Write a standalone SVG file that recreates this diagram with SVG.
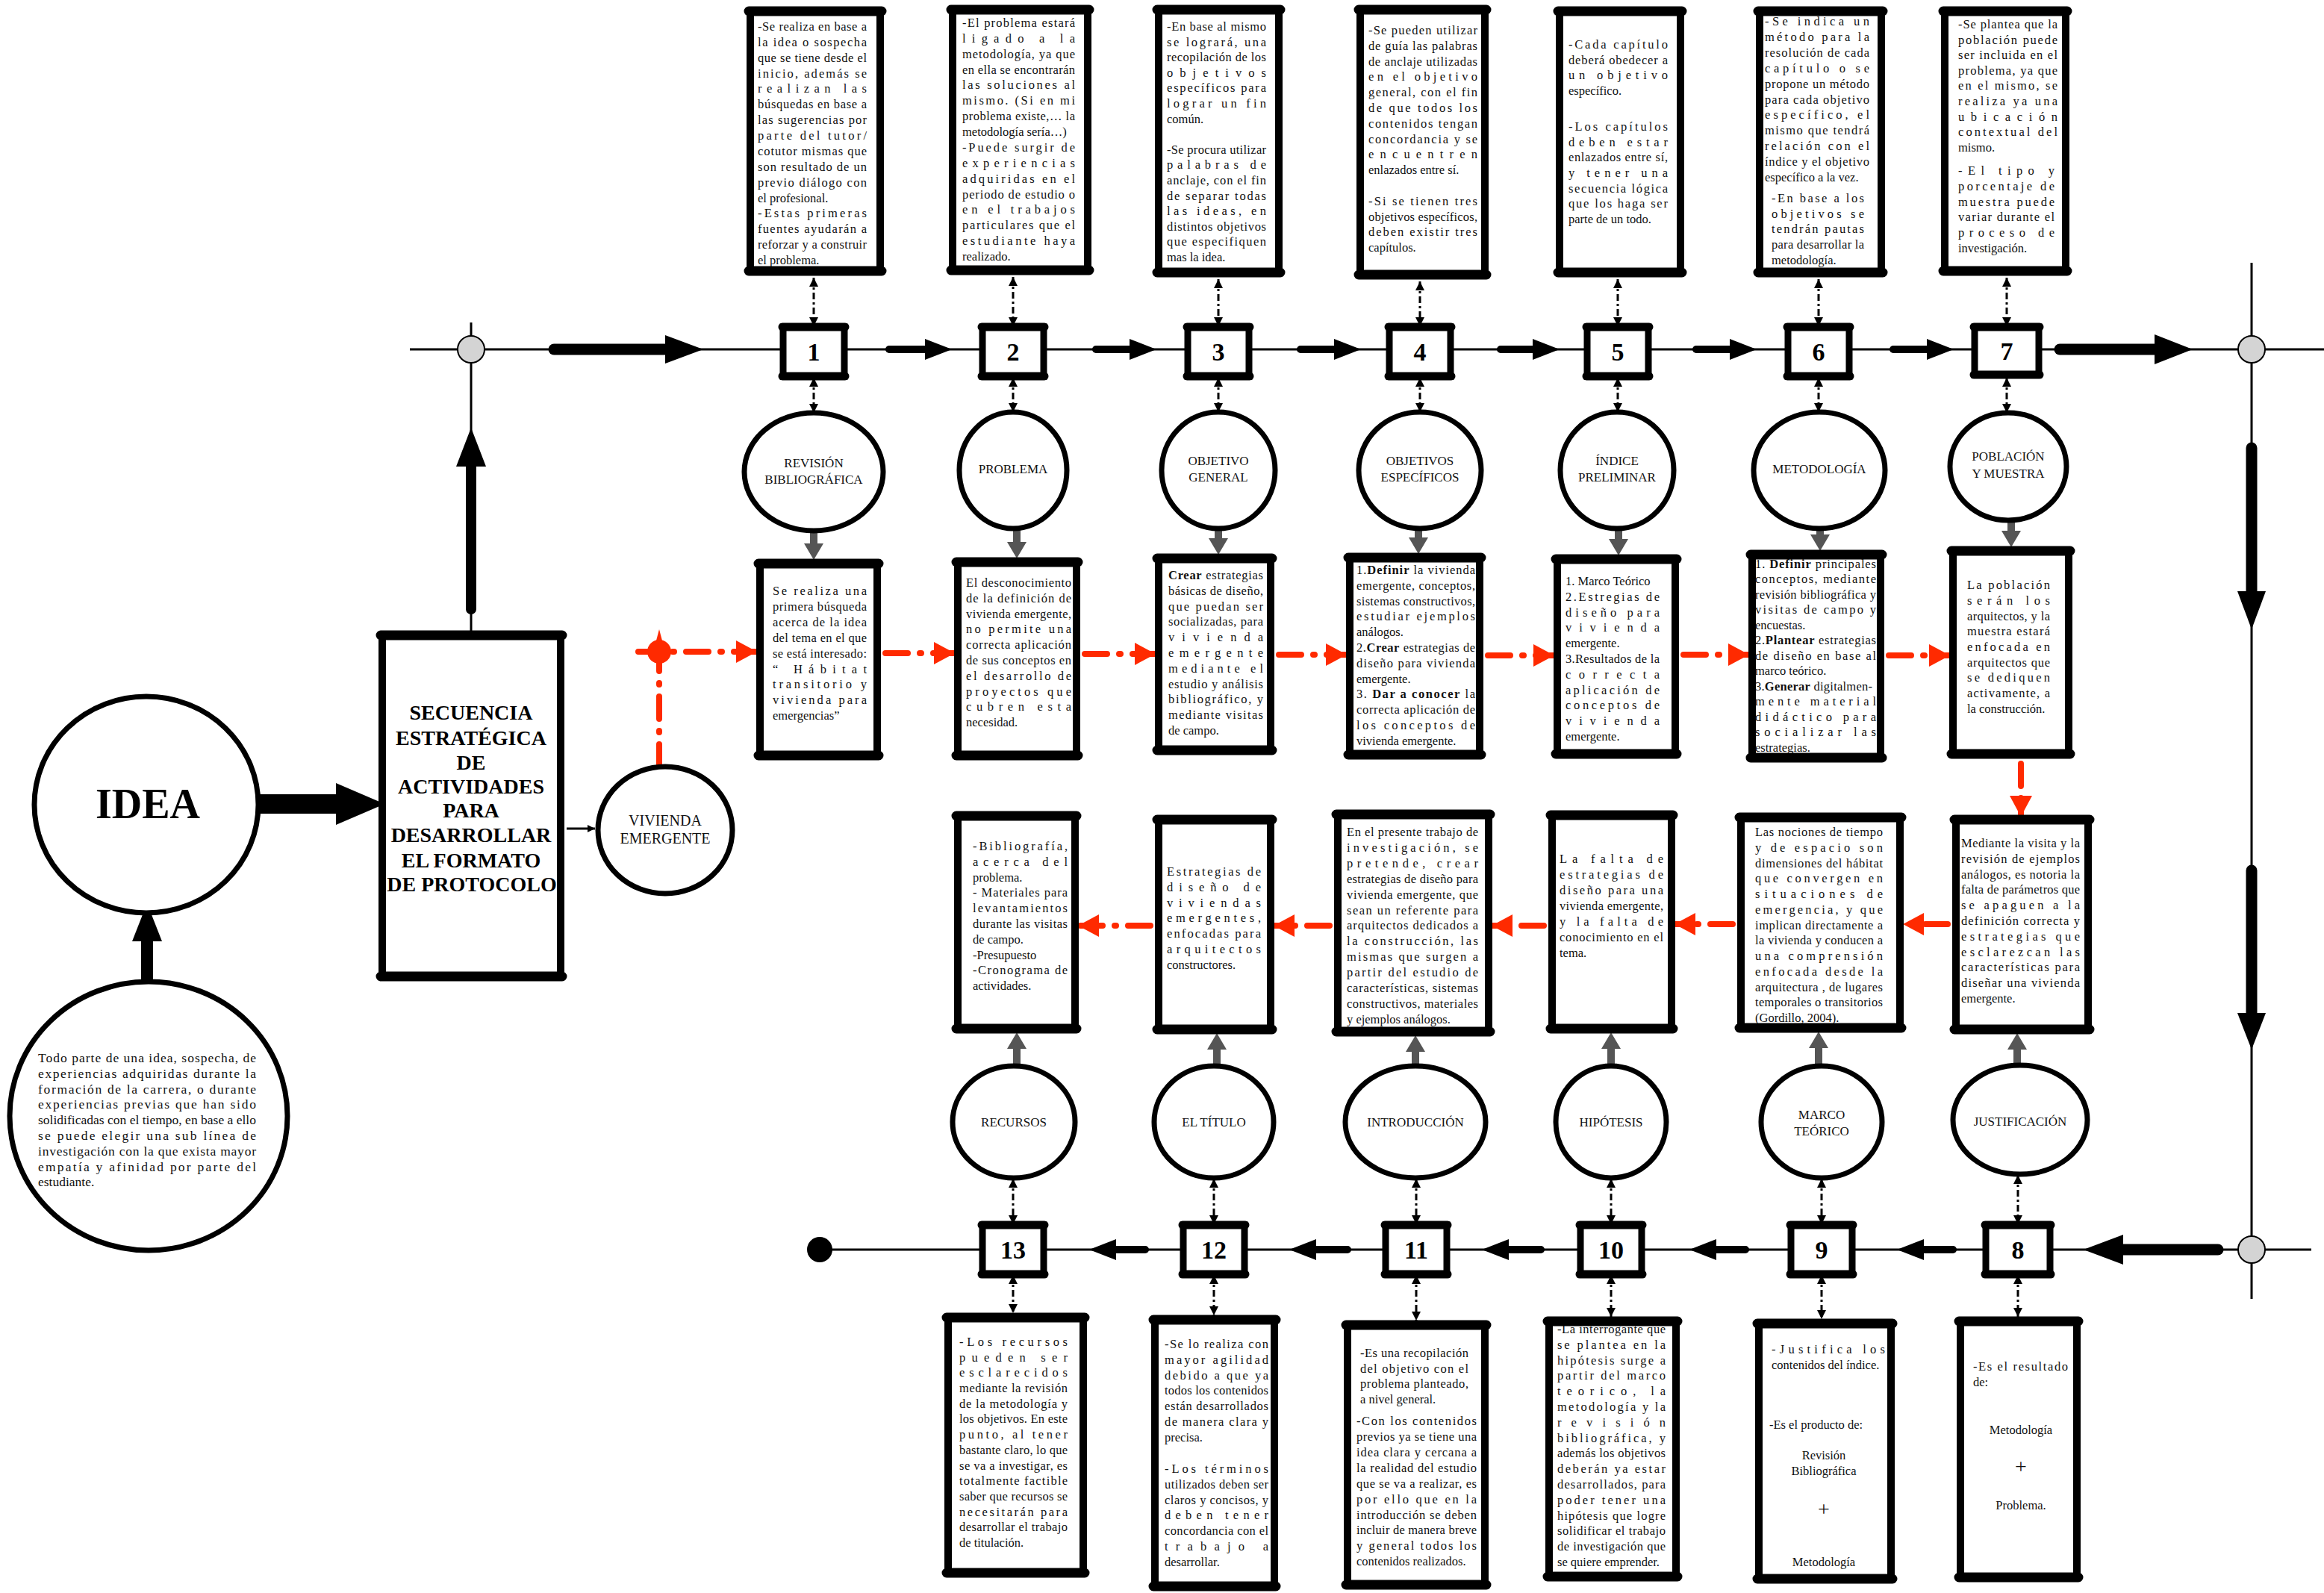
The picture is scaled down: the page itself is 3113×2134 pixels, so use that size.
<svg xmlns="http://www.w3.org/2000/svg" width="3113" height="2134" viewBox="0 0 3113 2134">
<defs>
<style>
.t{font-family:"Liberation Serif","Times New Roman",serif;font-size:16.5px;fill:#111}
.c{text-anchor:middle}
.lb{font-family:"Liberation Serif","Times New Roman",serif;font-size:17px;fill:#111;text-anchor:middle}
.bx{fill:#fff;stroke:#000;stroke-width:10}
.ed{fill:none;stroke:#000;stroke-width:13;stroke-linecap:round}
.el{fill:#fff;stroke:#000;stroke-width:7}
.nb{fill:#fff;stroke:#000;stroke-width:9}
.ne{fill:none;stroke:#000;stroke-width:11;stroke-linecap:round}
.num{font-family:"Liberation Serif","Times New Roman",serif;font-size:34px;font-weight:bold;text-anchor:middle;fill:#000}
.ln{stroke:#000;stroke-width:3;fill:none}
.dd{stroke:#000;stroke-width:3;fill:none;stroke-dasharray:9 4 3 4}
.rd{stroke:#ff2a00;stroke-width:8;fill:none;stroke-dasharray:30 16 2 16;stroke-linecap:round}
.ga{fill:#555}
.gc{fill:#d4d4d4;stroke:#000;stroke-width:2}
.bk{fill:#000}
.sh{stroke:#000;fill:none;stroke-linecap:round}
.big{font-family:"Liberation Serif","Times New Roman",serif;font-weight:bold;text-anchor:middle;fill:#000}
.it{font-family:"Liberation Serif","Times New Roman",serif;font-size:17.5px;fill:#111}
</style>
<marker id="da" viewBox="0 0 12 12" refX="12" refY="6" markerWidth="12" markerHeight="12" markerUnits="userSpaceOnUse" orient="auto-start-reverse"><path d="M0,0 L12,6 L0,12 z" fill="#000"/></marker>
<marker id="ra" viewBox="0 0 28 30" refX="27" refY="15" markerWidth="28" markerHeight="30" markerUnits="userSpaceOnUse" orient="auto"><path d="M0,0 L28,15 L0,30 z" fill="#ff2a00"/></marker>
<marker id="sa" viewBox="0 0 10 10" refX="10" refY="5" markerWidth="10" markerHeight="10" markerUnits="userSpaceOnUse" orient="auto"><path d="M0,0 L10,5 L0,10 z" fill="#000"/></marker>
</defs>
<rect width="3113" height="2134" fill="#fff"/>

<g id="connectors">
<path class="ln" d="M549,468 H3113"/>
<path class="ln" d="M631,432 V846"/>
<path class="ln" d="M3016,352 V1740"/>
<path class="ln" d="M1098,1674 H3096"/>
<path class="sh" stroke-width="15" d="M742,468 H895"/>
<polygon class="bk" points="891,449 942,468 891,487"/>
<path class="sh" stroke-width="15" d="M2759,468 H2890"/>
<polygon class="bk" points="2886,448 2937,468 2886,488"/>
<path class="sh" stroke-width="15" d="M3016,600 V796"/>
<polygon class="bk" points="2997,792 3016,843 3035,792"/>
<path class="sh" stroke-width="15" d="M3016,1166 V1361"/>
<polygon class="bk" points="2997,1357 3016,1406 3035,1357"/>
<path class="sh" stroke-width="15" d="M2971,1674 H2840"/>
<polygon class="bk" points="2844,1654 2791,1674 2844,1694"/>
<path class="sh" stroke-width="14" d="M631,816 V621"/>
<polygon class="bk" points="611,625 631,573 651,625"/>
<rect class="bk" x="346" y="1064" width="106" height="26"/>
<polygon class="bk" points="450,1049 515,1077 450,1105"/>
<path class="sh" stroke-width="16" d="M197,1322 V1257"/>
<polygon class="bk" points="177,1261 197,1210 217,1261"/>
<path class="ln" stroke-width="2.5" d="M759,1110 H797" marker-end="url(#sa)"/>
<path class="sh" stroke-width="10" d="M1191,468 H1242"/><polygon class="bk" points="1239,454 1275,468 1239,482"/>
<path class="sh" stroke-width="10" d="M1468,468 H1516"/><polygon class="bk" points="1513,454 1549,468 1513,482"/>
<path class="sh" stroke-width="10" d="M1742,468 H1790"/><polygon class="bk" points="1787,454 1823,468 1787,482"/>
<path class="sh" stroke-width="10" d="M2010,468 H2056"/><polygon class="bk" points="2053,454 2089,468 2053,482"/>
<path class="sh" stroke-width="10" d="M2272,468 H2320"/><polygon class="bk" points="2317,454 2353,468 2317,482"/>
<path class="sh" stroke-width="10" d="M2536,468 H2584"/><polygon class="bk" points="2581,454 2617,468 2581,482"/>
<path class="sh" stroke-width="10" d="M2616,1674 H2574"/><polygon class="bk" points="2577,1660 2541,1674 2577,1688"/>
<path class="sh" stroke-width="10" d="M2338,1674 H2296"/><polygon class="bk" points="2299,1660 2263,1674 2299,1688"/>
<path class="sh" stroke-width="10" d="M2064,1674 H2018"/><polygon class="bk" points="2021,1660 1985,1674 2021,1688"/>
<path class="sh" stroke-width="10" d="M1805,1674 H1760"/><polygon class="bk" points="1763,1660 1727,1674 1763,1688"/>
<path class="sh" stroke-width="10" d="M1534,1674 H1492"/><polygon class="bk" points="1495,1660 1459,1674 1495,1688"/>
<circle class="gc" cx="631" cy="468" r="18"/>
<circle class="gc" cx="3016" cy="468" r="18"/>
<circle class="gc" cx="3016" cy="1674" r="18"/>
<circle class="bk" cx="1098" cy="1674" r="17"/>
<path class="dd" d="M1090,372 V437" marker-start="url(#da)" marker-end="url(#da)"/>
<path class="dd" d="M1357,371 V437" marker-start="url(#da)" marker-end="url(#da)"/>
<path class="dd" d="M1632,374 V437" marker-start="url(#da)" marker-end="url(#da)"/>
<path class="dd" d="M1902,377 V437" marker-start="url(#da)" marker-end="url(#da)"/>
<path class="dd" d="M2167,374 V437" marker-start="url(#da)" marker-end="url(#da)"/>
<path class="dd" d="M2436,374 V437" marker-start="url(#da)" marker-end="url(#da)"/>
<path class="dd" d="M2688,372 V437" marker-start="url(#da)" marker-end="url(#da)"/>
<path class="dd" d="M1090,506 V553" marker-start="url(#da)" marker-end="url(#da)"/>
<path class="dd" d="M1357,506 V552" marker-start="url(#da)" marker-end="url(#da)"/>
<path class="dd" d="M1632,506 V552" marker-start="url(#da)" marker-end="url(#da)"/>
<path class="dd" d="M1902,506 V552" marker-start="url(#da)" marker-end="url(#da)"/>
<path class="dd" d="M2167,506 V552" marker-start="url(#da)" marker-end="url(#da)"/>
<path class="dd" d="M2436,506 V552" marker-start="url(#da)" marker-end="url(#da)"/>
<path class="dd" d="M2688,506 V553" marker-start="url(#da)" marker-end="url(#da)"/>
<path class="dd" d="M1357,1579 V1640" marker-start="url(#da)" marker-end="url(#da)"/>
<path class="dd" d="M1626,1579 V1640" marker-start="url(#da)" marker-end="url(#da)"/>
<path class="dd" d="M1897,1579 V1640" marker-start="url(#da)" marker-end="url(#da)"/>
<path class="dd" d="M2158,1579 V1640" marker-start="url(#da)" marker-end="url(#da)"/>
<path class="dd" d="M2440,1579 V1640" marker-start="url(#da)" marker-end="url(#da)"/>
<path class="dd" d="M2703,1574 V1640" marker-start="url(#da)" marker-end="url(#da)"/>
<path class="dd" d="M1357,1708 V1759" marker-start="url(#da)" marker-end="url(#da)"/>
<path class="dd" d="M1626,1708 V1762" marker-start="url(#da)" marker-end="url(#da)"/>
<path class="dd" d="M1897,1708 V1769" marker-start="url(#da)" marker-end="url(#da)"/>
<path class="dd" d="M2158,1708 V1764" marker-start="url(#da)" marker-end="url(#da)"/>
<path class="dd" d="M2440,1708 V1767" marker-start="url(#da)" marker-end="url(#da)"/>
<path class="dd" d="M2703,1708 V1764" marker-start="url(#da)" marker-end="url(#da)"/>
<polygon class="ga" points="1085,708 1095,708 1095,728 1103,728 1090,750 1077,728 1085,728"/>
<polygon class="ga" points="1357,706 1367,706 1367,726 1375,726 1362,748 1349,726 1357,726"/>
<polygon class="ga" points="1627,706 1637,706 1637,721 1645,721 1632,743 1619,721 1627,721"/>
<polygon class="ga" points="1895,706 1905,706 1905,720 1913,720 1900,742 1887,720 1895,720"/>
<polygon class="ga" points="2163,706 2173,706 2173,722 2181,722 2168,744 2155,722 2163,722"/>
<polygon class="ga" points="2433,706 2443,706 2443,716 2451,716 2438,738 2425,716 2433,716"/>
<polygon class="ga" points="2689,695 2699,695 2699,711 2707,711 2694,733 2681,711 2689,711"/>
<polygon class="ga" points="1357,1428 1367,1428 1367,1405 1375,1405 1362,1383 1349,1405 1357,1405"/>
<polygon class="ga" points="1625,1428 1635,1428 1635,1406 1643,1406 1630,1384 1617,1406 1625,1406"/>
<polygon class="ga" points="1891,1428 1901,1428 1901,1409 1909,1409 1896,1387 1883,1409 1891,1409"/>
<polygon class="ga" points="2153,1428 2163,1428 2163,1405 2171,1405 2158,1383 2145,1405 2153,1405"/>
<polygon class="ga" points="2431,1428 2441,1428 2441,1404 2449,1404 2436,1382 2423,1404 2431,1404"/>
<polygon class="ga" points="2697,1427 2707,1427 2707,1406 2715,1406 2702,1384 2689,1406 2697,1406"/>
<path class="rd" d="M883,1027 V880"/>
<path class="rd" d="M855,873 H1013" marker-end="url(#ra)"/>
<path class="rd" d="M1186,875 H1278" marker-end="url(#ra)"/>
<path class="rd" d="M1453,876 H1547" marker-end="url(#ra)"/>
<path class="rd" d="M1713,877 H1803" marker-end="url(#ra)"/>
<path class="rd" d="M1993,878 H2081" marker-end="url(#ra)"/>
<path class="rd" d="M2255,877 H2342" marker-end="url(#ra)"/>
<path class="rd" d="M2530,878 H2611" marker-end="url(#ra)"/>
<path class="rd" d="M2707,1023 V1093" marker-end="url(#ra)"/>
<path class="rd" d="M2609,1238 H2550" marker-end="url(#ra)"/>
<path class="rd" d="M2321,1238 H2244" marker-end="url(#ra)"/>
<path class="rd" d="M2068,1240 H1999" marker-end="url(#ra)"/>
<path class="rd" d="M1781,1240 H1707" marker-end="url(#ra)"/>
<path class="rd" d="M1541,1240 H1445" marker-end="url(#ra)"/>
<circle cx="883" cy="873" r="16" fill="#ff2a00"/>
<path d="M878,862 L883,843 L888,862 z" fill="#ff2a00"/>
</g>

<g id="idea-origin">
<ellipse class="el" cx="199" cy="1495" rx="186" ry="180" stroke-width="6"/>
<text class="it" x="51" y="1423" textLength="292" lengthAdjust="spacing">Todo parte de una idea, sospecha, de</text>
<text class="it" x="51" y="1444" textLength="292" lengthAdjust="spacing">experiencias adquiridas durante la</text>
<text class="it" x="51" y="1465" textLength="292" lengthAdjust="spacing">formación de la carrera, o durante</text>
<text class="it" x="51" y="1485" textLength="292" lengthAdjust="spacing">experiencias previas que han sido</text>
<text class="it" x="51" y="1506" textLength="292" lengthAdjust="spacing">solidificadas con el tiempo, en base a ello</text>
<text class="it" x="51" y="1527" textLength="292" lengthAdjust="spacing">se puede elegir una sub línea de</text>
<text class="it" x="51" y="1548" textLength="292" lengthAdjust="spacing">investigación con la que exista mayor</text>
<text class="it" x="51" y="1569" textLength="292" lengthAdjust="spacing">empatía y afinidad por parte del</text>
<text class="it" x="51" y="1589">estudiante.</text>
</g>

<g id="idea">
<ellipse class="el" cx="196" cy="1078" rx="150" ry="145" stroke-width="6"/>
<text class="big" x="198" y="1096" font-size="56">IDEA</text>
</g>

<g id="secuencia">
<rect class="bx" x="512" y="851" width="239" height="457"/>
<path class="ed" d="M510,851 H753 M510,1308 H753"/>
<text class="big" font-size="28" x="631" y="964">SECUENCIA</text>
<text class="big" font-size="28" x="631" y="998">ESTRATÉGICA</text>
<text class="big" font-size="28" x="631" y="1031">DE</text>
<text class="big" font-size="28" x="631" y="1063">ACTIVIDADES</text>
<text class="big" font-size="28" x="631" y="1095">PARA</text>
<text class="big" font-size="28" x="631" y="1128">DESARROLLAR</text>
<text class="big" font-size="28" x="631" y="1162">EL FORMATO</text>
<text class="big" font-size="28" x="632" y="1194">DE PROTOCOLO</text>
</g>

<g id="vivienda-emergente">
<ellipse class="el" cx="891" cy="1112" rx="90" ry="85" stroke-width="6"/>
<text class="lb" style="font-size:20px" x="891" y="1106">VIVIENDA</text>
<text class="lb" style="font-size:20px" x="891" y="1130">EMERGENTE</text>
</g>

<g id="n1"><rect class="nb" x="1049" y="438" width="82" height="66"/><path class="ne" d="M1048,438 H1132 M1048,504 H1132"/><text class="num" x="1090" y="483">1</text></g>
<g id="n2"><rect class="nb" x="1316" y="438" width="82" height="66"/><path class="ne" d="M1315,438 H1399 M1315,504 H1399"/><text class="num" x="1357" y="483">2</text></g>
<g id="n3"><rect class="nb" x="1591" y="438" width="82" height="66"/><path class="ne" d="M1590,438 H1674 M1590,504 H1674"/><text class="num" x="1632" y="483">3</text></g>
<g id="n4"><rect class="nb" x="1861" y="438" width="82" height="66"/><path class="ne" d="M1860,438 H1944 M1860,504 H1944"/><text class="num" x="1902" y="483">4</text></g>
<g id="n5"><rect class="nb" x="2126" y="438" width="82" height="66"/><path class="ne" d="M2125,438 H2209 M2125,504 H2209"/><text class="num" x="2167" y="483">5</text></g>
<g id="n6"><rect class="nb" x="2395" y="438" width="82" height="66"/><path class="ne" d="M2394,438 H2478 M2394,504 H2478"/><text class="num" x="2436" y="483">6</text></g>
<g id="n7"><rect class="nb" x="2645" y="438" width="86" height="64"/><path class="ne" d="M2644,438 H2732 M2644,502 H2732"/><text class="num" x="2688" y="482">7</text></g>
<g id="n8"><rect class="nb" x="2660" y="1641" width="86" height="66"/><path class="ne" d="M2659,1641 H2747 M2659,1707 H2747"/><text class="num" x="2703" y="1686">8</text></g>
<g id="n9"><rect class="nb" x="2399" y="1641" width="82" height="66"/><path class="ne" d="M2398,1641 H2482 M2398,1707 H2482"/><text class="num" x="2440" y="1686">9</text></g>
<g id="n10"><rect class="nb" x="2117" y="1641" width="82" height="66"/><path class="ne" d="M2116,1641 H2200 M2116,1707 H2200"/><text class="num" x="2158" y="1686">10</text></g>
<g id="n11"><rect class="nb" x="1856" y="1641" width="82" height="66"/><path class="ne" d="M1855,1641 H1939 M1855,1707 H1939"/><text class="num" x="1897" y="1686">11</text></g>
<g id="n12"><rect class="nb" x="1585" y="1641" width="82" height="66"/><path class="ne" d="M1584,1641 H1668 M1584,1707 H1668"/><text class="num" x="1626" y="1686">12</text></g>
<g id="n13"><rect class="nb" x="1316" y="1641" width="82" height="66"/><path class="ne" d="M1315,1641 H1399 M1315,1707 H1399"/><text class="num" x="1357" y="1686">13</text></g>

<g id="e-revision"><ellipse class="el" cx="1090" cy="632" rx="93" ry="79"/><text class="lb" x="1090" y="626">REVISIÓN</text><text class="lb" x="1090" y="648">BIBLIOGRÁFICA</text></g>
<g id="e-problema"><ellipse class="el" cx="1357" cy="630" rx="72" ry="78"/><text class="lb" x="1357" y="634">PROBLEMA</text></g>
<g id="e-objetivo-general"><ellipse class="el" cx="1632" cy="630" rx="76" ry="78"/><text class="lb" x="1632" y="623">OBJETIVO</text><text class="lb" x="1632" y="645">GENERAL</text></g>
<g id="e-objetivos-especificos"><ellipse class="el" cx="1902" cy="630" rx="82" ry="78"/><text class="lb" x="1902" y="623">OBJETIVOS</text><text class="lb" x="1902" y="645">ESPECÍFICOS</text></g>
<g id="e-indice"><ellipse class="el" cx="2166" cy="630" rx="76" ry="78"/><text class="lb" x="2166" y="623">ÍNDICE</text><text class="lb" x="2166" y="645">PRELIMINAR</text></g>
<g id="e-metodologia"><ellipse class="el" cx="2437" cy="630" rx="88" ry="78"/><text class="lb" x="2437" y="634">METODOLOGÍA</text></g>
<g id="e-poblacion"><ellipse class="el" cx="2690" cy="625" rx="78" ry="72"/><text class="lb" x="2690" y="617">POBLACIÓN</text><text class="lb" x="2690" y="640">Y MUESTRA</text></g>

<g id="e-recursos"><ellipse class="el" cx="1358" cy="1503" rx="82" ry="75"/><text class="lb" x="1358" y="1509">RECURSOS</text></g>
<g id="e-titulo"><ellipse class="el" cx="1626" cy="1503" rx="80" ry="75"/><text class="lb" x="1626" y="1509">EL TÍTULO</text></g>
<g id="e-introduccion"><ellipse class="el" cx="1896" cy="1503" rx="94" ry="75"/><text class="lb" x="1896" y="1509">INTRODUCCIÓN</text></g>
<g id="e-hipotesis"><ellipse class="el" cx="2158" cy="1503" rx="74" ry="75"/><text class="lb" x="2158" y="1509">HIPÓTESIS</text></g>
<g id="e-marco"><ellipse class="el" cx="2440" cy="1503" rx="81" ry="75"/><text class="lb" x="2440" y="1499">MARCO</text><text class="lb" x="2440" y="1521">TEÓRICO</text></g>
<g id="e-justificacion"><ellipse class="el" cx="2706" cy="1500" rx="90" ry="73"/><text class="lb" x="2706" y="1508">JUSTIFICACIÓN</text></g>

<g id="t1"><rect class="bx" x="1005" y="15" width="174" height="348"/>
<text class="t" x="1015" y="41" textLength="146" lengthAdjust="spacing">-Se realiza en base a</text>
<text class="t" x="1015" y="62" textLength="146" lengthAdjust="spacing">la idea o sospecha</text>
<text class="t" x="1015" y="83" textLength="146" lengthAdjust="spacing">que se tiene desde el</text>
<text class="t" x="1015" y="104" textLength="146" lengthAdjust="spacing">inicio, además se</text>
<text class="t" x="1015" y="124" textLength="146" lengthAdjust="spacing">realizan las</text>
<text class="t" x="1015" y="145" textLength="146" lengthAdjust="spacing">búsquedas en base a</text>
<text class="t" x="1015" y="166" textLength="146" lengthAdjust="spacing">las sugerencias por</text>
<text class="t" x="1015" y="187" textLength="146" lengthAdjust="spacing">parte del tutor/</text>
<text class="t" x="1015" y="208" textLength="146" lengthAdjust="spacing">cotutor mismas que</text>
<text class="t" x="1015" y="229" textLength="146" lengthAdjust="spacing">son resultado de un</text>
<text class="t" x="1015" y="250" textLength="146" lengthAdjust="spacing">previo diálogo  con</text>
<text class="t" x="1015" y="271">el profesional.</text>
<text class="t" x="1015" y="291" textLength="146" lengthAdjust="spacing">-Estas primeras</text>
<text class="t" x="1015" y="312" textLength="146" lengthAdjust="spacing">fuentes ayudarán a</text>
<text class="t" x="1015" y="333" textLength="146" lengthAdjust="spacing">reforzar y a construir</text>
<text class="t" x="1015" y="354">el problema.</text>
<path class="ed" d="M1003,15 H1181 M1003,363 H1181"/></g>

<g id="t2"><rect class="bx" x="1276" y="13" width="181" height="349"/>
<text class="t" x="1289" y="36" textLength="151" lengthAdjust="spacing">-El problema estará</text>
<text class="t" x="1289" y="57" textLength="151" lengthAdjust="spacing">ligado a la</text>
<text class="t" x="1289" y="78" textLength="151" lengthAdjust="spacing">metodología, ya que</text>
<text class="t" x="1289" y="99" textLength="151" lengthAdjust="spacing">en ella se encontrarán</text>
<text class="t" x="1289" y="119" textLength="151" lengthAdjust="spacing">las soluciones al</text>
<text class="t" x="1289" y="140" textLength="151" lengthAdjust="spacing">mismo. (Si en mi</text>
<text class="t" x="1289" y="161" textLength="151" lengthAdjust="spacing">problema existe,… la</text>
<text class="t" x="1289" y="182">metodología sería…)</text>
<text class="t" x="1289" y="203" textLength="151" lengthAdjust="spacing">-Puede surgir de</text>
<text class="t" x="1289" y="224" textLength="151" lengthAdjust="spacing">experiencias</text>
<text class="t" x="1289" y="245" textLength="151" lengthAdjust="spacing">adquiridas en el</text>
<text class="t" x="1289" y="266" textLength="151" lengthAdjust="spacing">periodo de estudio o</text>
<text class="t" x="1289" y="286" textLength="151" lengthAdjust="spacing">en el trabajos</text>
<text class="t" x="1289" y="307" textLength="151" lengthAdjust="spacing">particulares que el</text>
<text class="t" x="1289" y="328" textLength="151" lengthAdjust="spacing">estudiante haya</text>
<text class="t" x="1289" y="349">realizado.</text>
<path class="ed" d="M1274,13 H1459 M1274,362 H1459"/></g>

<g id="t3"><rect class="bx" x="1552" y="13" width="161" height="352"/>
<text class="t" x="1563" y="41" textLength="133" lengthAdjust="spacing">-En base al mismo</text>
<text class="t" x="1563" y="62" textLength="133" lengthAdjust="spacing">se logrará, una</text>
<text class="t" x="1563" y="82" textLength="133" lengthAdjust="spacing">recopilación de los</text>
<text class="t" x="1563" y="103" textLength="133" lengthAdjust="spacing">objetivos</text>
<text class="t" x="1563" y="123" textLength="133" lengthAdjust="spacing">específicos para</text>
<text class="t" x="1563" y="144" textLength="133" lengthAdjust="spacing">lograr un fin</text>
<text class="t" x="1563" y="165">común.</text>
<text class="t" x="1563" y="206" textLength="133" lengthAdjust="spacing">-Se procura utilizar</text>
<text class="t" x="1563" y="226" textLength="133" lengthAdjust="spacing">palabras de</text>
<text class="t" x="1563" y="247" textLength="133" lengthAdjust="spacing">anclaje, con el fin</text>
<text class="t" x="1563" y="268" textLength="133" lengthAdjust="spacing">de separar todas</text>
<text class="t" x="1563" y="288" textLength="133" lengthAdjust="spacing">las ideas, en</text>
<text class="t" x="1563" y="309" textLength="133" lengthAdjust="spacing">distintos objetivos</text>
<text class="t" x="1563" y="329" textLength="133" lengthAdjust="spacing">que especifiquen</text>
<text class="t" x="1563" y="350">mas la idea.</text>
<path class="ed" d="M1550,13 H1715 M1550,365 H1715"/></g>

<g id="t4"><rect class="bx" x="1822" y="13" width="167" height="355"/>
<text class="t" x="1833" y="46" textLength="146" lengthAdjust="spacing">-Se pueden utilizar</text>
<text class="t" x="1833" y="67" textLength="146" lengthAdjust="spacing">de guía las palabras</text>
<text class="t" x="1833" y="88" textLength="146" lengthAdjust="spacing">de anclaje utilizadas</text>
<text class="t" x="1833" y="108" textLength="146" lengthAdjust="spacing">en el objetivo</text>
<text class="t" x="1833" y="129" textLength="146" lengthAdjust="spacing">general, con el fin</text>
<text class="t" x="1833" y="150" textLength="146" lengthAdjust="spacing">de que todos los</text>
<text class="t" x="1833" y="171" textLength="146" lengthAdjust="spacing">contenidos tengan</text>
<text class="t" x="1833" y="192" textLength="146" lengthAdjust="spacing">concordancia y se</text>
<text class="t" x="1833" y="212" textLength="146" lengthAdjust="spacing">encuentren</text>
<text class="t" x="1833" y="233">enlazados entre sí.</text>
<text class="t" x="1833" y="275" textLength="146" lengthAdjust="spacing">-Si se tienen tres</text>
<text class="t" x="1833" y="296" textLength="146" lengthAdjust="spacing">objetivos específicos,</text>
<text class="t" x="1833" y="316" textLength="146" lengthAdjust="spacing">deben existir tres</text>
<text class="t" x="1833" y="337">capítulos.</text>
<path class="ed" d="M1820,13 H1991 M1820,368 H1991"/></g>

<g id="t5"><rect class="bx" x="2089" y="15" width="162" height="350"/>
<text class="t" x="2101" y="65" textLength="133" lengthAdjust="spacing">-Cada capítulo</text>
<text class="t" x="2101" y="86" textLength="133" lengthAdjust="spacing">deberá obedecer a</text>
<text class="t" x="2101" y="106" textLength="133" lengthAdjust="spacing">un objetivo</text>
<text class="t" x="2101" y="127">específico.</text>
<text class="t" x="2101" y="175" textLength="133" lengthAdjust="spacing">-Los capítulos</text>
<text class="t" x="2101" y="196" textLength="133" lengthAdjust="spacing">deben estar</text>
<text class="t" x="2101" y="216" textLength="133" lengthAdjust="spacing">enlazados entre sí,</text>
<text class="t" x="2101" y="237" textLength="133" lengthAdjust="spacing">y tener una</text>
<text class="t" x="2101" y="258" textLength="133" lengthAdjust="spacing">secuencia lógica</text>
<text class="t" x="2101" y="278" textLength="133" lengthAdjust="spacing">que los haga ser</text>
<text class="t" x="2101" y="299">parte de un todo.</text>
<path class="ed" d="M2087,15 H2253 M2087,365 H2253"/></g>

<g id="t6"><rect class="bx" x="2357" y="15" width="163" height="350"/>
<text class="t" x="2364" y="34" textLength="140" lengthAdjust="spacing">-Se indica un</text>
<text class="t" x="2364" y="55" textLength="140" lengthAdjust="spacing">método para la</text>
<text class="t" x="2364" y="76" textLength="140" lengthAdjust="spacing">resolución de cada</text>
<text class="t" x="2364" y="97" textLength="140" lengthAdjust="spacing">capítulo o se</text>
<text class="t" x="2364" y="118" textLength="140" lengthAdjust="spacing">propone un método</text>
<text class="t" x="2364" y="139" textLength="140" lengthAdjust="spacing">para cada objetivo</text>
<text class="t" x="2364" y="159" textLength="140" lengthAdjust="spacing">específico, el</text>
<text class="t" x="2364" y="180" textLength="140" lengthAdjust="spacing">mismo que tendrá</text>
<text class="t" x="2364" y="201" textLength="140" lengthAdjust="spacing">relación con el</text>
<text class="t" x="2364" y="222" textLength="140" lengthAdjust="spacing">índice y el objetivo</text>
<text class="t" x="2364" y="243">específico a la vez.</text>
<text class="t" x="2373" y="271" textLength="124" lengthAdjust="spacing">-En base a los</text>
<text class="t" x="2373" y="292" textLength="124" lengthAdjust="spacing">objetivos se</text>
<text class="t" x="2373" y="312" textLength="124" lengthAdjust="spacing">tendrán pautas</text>
<text class="t" x="2373" y="333" textLength="124" lengthAdjust="spacing">para desarrollar la</text>
<text class="t" x="2373" y="354">metodología.</text>
<path class="ed" d="M2355,15 H2522 M2355,365 H2522"/></g>

<g id="t7"><rect class="bx" x="2605" y="15" width="162" height="348"/>
<text class="t" x="2623" y="38" textLength="133" lengthAdjust="spacing">-Se plantea que la</text>
<text class="t" x="2623" y="59" textLength="133" lengthAdjust="spacing">población puede</text>
<text class="t" x="2623" y="79" textLength="133" lengthAdjust="spacing">ser incluida en el</text>
<text class="t" x="2623" y="100" textLength="133" lengthAdjust="spacing">problema, ya que</text>
<text class="t" x="2623" y="120" textLength="133" lengthAdjust="spacing">en el mismo, se</text>
<text class="t" x="2623" y="141" textLength="133" lengthAdjust="spacing">realiza ya una</text>
<text class="t" x="2623" y="162" textLength="133" lengthAdjust="spacing">ubicación</text>
<text class="t" x="2623" y="182" textLength="133" lengthAdjust="spacing">contextual del</text>
<text class="t" x="2623" y="203">mismo.</text>
<text class="t" x="2623" y="234" textLength="129" lengthAdjust="spacing">-El tipo y</text>
<text class="t" x="2623" y="255" textLength="129" lengthAdjust="spacing">porcentaje de</text>
<text class="t" x="2623" y="276" textLength="129" lengthAdjust="spacing">muestra puede</text>
<text class="t" x="2623" y="296" textLength="129" lengthAdjust="spacing">variar durante el</text>
<text class="t" x="2623" y="317" textLength="129" lengthAdjust="spacing">proceso de</text>
<text class="t" x="2623" y="338">investigación.</text>
<path class="ed" d="M2603,15 H2769 M2603,363 H2769"/></g>

<g id="m1"><rect class="bx" x="1018" y="755" width="157" height="257"/>
<text class="t" x="1035" y="797" textLength="126" lengthAdjust="spacing">Se realiza una</text>
<text class="t" x="1035" y="818" textLength="126" lengthAdjust="spacing">primera búsqueda</text>
<text class="t" x="1035" y="839" textLength="126" lengthAdjust="spacing">acerca de la idea</text>
<text class="t" x="1035" y="860" textLength="126" lengthAdjust="spacing">del tema en el que</text>
<text class="t" x="1035" y="881" textLength="126" lengthAdjust="spacing">se está interesado:</text>
<text class="t" x="1035" y="902" textLength="126" lengthAdjust="spacing">“ Hábitat</text>
<text class="t" x="1035" y="922" textLength="126" lengthAdjust="spacing">transitorio y</text>
<text class="t" x="1035" y="943" textLength="126" lengthAdjust="spacing">vivienda para</text>
<text class="t" x="1035" y="964">emergencias”</text>
<path class="ed" d="M1016,755 H1177 M1016,1012 H1177"/></g>

<g id="m2"><rect class="bx" x="1283" y="753" width="159" height="259"/>
<text class="t" x="1294" y="786" textLength="141" lengthAdjust="spacing">El desconocimiento</text>
<text class="t" x="1294" y="807" textLength="141" lengthAdjust="spacing">de la definición de</text>
<text class="t" x="1294" y="828" textLength="141" lengthAdjust="spacing">vivienda emergente,</text>
<text class="t" x="1294" y="848" textLength="141" lengthAdjust="spacing">no permite una</text>
<text class="t" x="1294" y="869" textLength="141" lengthAdjust="spacing">correcta aplicación</text>
<text class="t" x="1294" y="890" textLength="141" lengthAdjust="spacing">de sus conceptos en</text>
<text class="t" x="1294" y="911" textLength="141" lengthAdjust="spacing">el desarrollo de</text>
<text class="t" x="1294" y="932" textLength="141" lengthAdjust="spacing">proyectos que</text>
<text class="t" x="1294" y="952" textLength="141" lengthAdjust="spacing">cubren esta</text>
<text class="t" x="1294" y="973">necesidad.</text>
<path class="ed" d="M1281,753 H1444 M1281,1012 H1444"/></g>

<g id="m3"><rect class="bx" x="1552" y="748" width="150" height="257"/>
<text class="t" x="1565" y="776" textLength="127" lengthAdjust="spacing"><tspan font-weight="bold">Crear</tspan> estrategias</text>
<text class="t" x="1565" y="797" textLength="127" lengthAdjust="spacing">básicas de diseño,</text>
<text class="t" x="1565" y="818" textLength="127" lengthAdjust="spacing">que puedan ser</text>
<text class="t" x="1565" y="838" textLength="127" lengthAdjust="spacing">socializadas, para</text>
<text class="t" x="1565" y="859" textLength="127" lengthAdjust="spacing">vivienda</text>
<text class="t" x="1565" y="880" textLength="127" lengthAdjust="spacing">emergente</text>
<text class="t" x="1565" y="901" textLength="127" lengthAdjust="spacing">mediante el</text>
<text class="t" x="1565" y="922" textLength="127" lengthAdjust="spacing">estudio y análisis</text>
<text class="t" x="1565" y="942" textLength="127" lengthAdjust="spacing">bibliográfico, y</text>
<text class="t" x="1565" y="963" textLength="127" lengthAdjust="spacing">mediante visitas</text>
<text class="t" x="1565" y="984">de campo.</text>
<path class="ed" d="M1550,748 H1704 M1550,1005 H1704"/></g>

<g id="m4"><rect class="bx" x="1808" y="747" width="174" height="264"/>
<text class="t" x="1817" y="769" textLength="159" lengthAdjust="spacing">1.<tspan font-weight="bold">Definir</tspan> la vivienda</text>
<text class="t" x="1817" y="790" textLength="159" lengthAdjust="spacing">emergente, conceptos,</text>
<text class="t" x="1817" y="811" textLength="159" lengthAdjust="spacing">sistemas constructivos,</text>
<text class="t" x="1817" y="831" textLength="159" lengthAdjust="spacing">estudiar ejemplos</text>
<text class="t" x="1817" y="852">análogos.</text>
<text class="t" x="1817" y="873" textLength="159" lengthAdjust="spacing">2.<tspan font-weight="bold">Crear</tspan> estrategias de</text>
<text class="t" x="1817" y="894" textLength="159" lengthAdjust="spacing">diseño para vivienda</text>
<text class="t" x="1817" y="915">emergente.</text>
<text class="t" x="1817" y="935" textLength="159" lengthAdjust="spacing">3. <tspan font-weight="bold">Dar a conocer</tspan> la</text>
<text class="t" x="1817" y="956" textLength="159" lengthAdjust="spacing">correcta aplicación de</text>
<text class="t" x="1817" y="977" textLength="159" lengthAdjust="spacing">los conceptos de</text>
<text class="t" x="1817" y="998">vivienda emergente.</text>
<path class="ed" d="M1806,747 H1984 M1806,1011 H1984"/></g>

<g id="m5"><rect class="bx" x="2086" y="749" width="158" height="261"/>
<text class="t" x="2097" y="784">1. Marco Teórico</text>
<text class="t" x="2097" y="805" textLength="126" lengthAdjust="spacing">2.Estregias de</text>
<text class="t" x="2097" y="826" textLength="126" lengthAdjust="spacing">diseño para</text>
<text class="t" x="2097" y="846" textLength="126" lengthAdjust="spacing">vivienda</text>
<text class="t" x="2097" y="867">emergente.</text>
<text class="t" x="2097" y="888" textLength="126" lengthAdjust="spacing">3.Resultados de la</text>
<text class="t" x="2097" y="909" textLength="126" lengthAdjust="spacing">correcta</text>
<text class="t" x="2097" y="930" textLength="126" lengthAdjust="spacing">aplicación de</text>
<text class="t" x="2097" y="950" textLength="126" lengthAdjust="spacing">conceptos de</text>
<text class="t" x="2097" y="971" textLength="126" lengthAdjust="spacing">vivienda</text>
<text class="t" x="2097" y="992">emergente.</text>
<path class="ed" d="M2084,749 H2246 M2084,1010 H2246"/></g>

<g id="m6"><rect class="bx" x="2347" y="743" width="172" height="272"/>
<text class="t" x="2351" y="761" textLength="162" lengthAdjust="spacing">1. <tspan font-weight="bold">Definir</tspan> principales</text>
<text class="t" x="2351" y="781" textLength="162" lengthAdjust="spacing">conceptos, mediante</text>
<text class="t" x="2351" y="802" textLength="162" lengthAdjust="spacing">revisión bibliográfica y</text>
<text class="t" x="2351" y="822" textLength="162" lengthAdjust="spacing">visitas de campo y</text>
<text class="t" x="2351" y="843">encuestas.</text>
<text class="t" x="2351" y="863" textLength="162" lengthAdjust="spacing">2.<tspan font-weight="bold">Plantear</tspan> estrategias</text>
<text class="t" x="2351" y="884" textLength="162" lengthAdjust="spacing">de diseño en base al</text>
<text class="t" x="2351" y="904">marco teórico.</text>
<text class="t" x="2351" y="925" textLength="157" lengthAdjust="spacing">3.<tspan font-weight="bold">Generar</tspan> digitalmen-</text>
<text class="t" x="2351" y="945" textLength="162" lengthAdjust="spacing">mente material</text>
<text class="t" x="2351" y="966" textLength="162" lengthAdjust="spacing">didáctico para</text>
<text class="t" x="2351" y="986" textLength="162" lengthAdjust="spacing">socializar las</text>
<text class="t" x="2351" y="1007">estrategias.</text>
<path class="ed" d="M2345,743 H2521 M2345,1015 H2521"/></g>

<g id="m7"><rect class="bx" x="2616" y="738" width="155" height="272"/>
<text class="t" x="2635" y="789" textLength="111" lengthAdjust="spacing">La población</text>
<text class="t" x="2635" y="810" textLength="111" lengthAdjust="spacing">serán los</text>
<text class="t" x="2635" y="831" textLength="111" lengthAdjust="spacing">arquitectos, y la</text>
<text class="t" x="2635" y="851" textLength="111" lengthAdjust="spacing">muestra estará</text>
<text class="t" x="2635" y="872" textLength="111" lengthAdjust="spacing">enfocada en</text>
<text class="t" x="2635" y="893" textLength="111" lengthAdjust="spacing">arquitectos que</text>
<text class="t" x="2635" y="913" textLength="111" lengthAdjust="spacing">se dediquen</text>
<text class="t" x="2635" y="934" textLength="111" lengthAdjust="spacing">activamente, a</text>
<text class="t" x="2635" y="955">la construcción.</text>
<path class="ed" d="M2614,738 H2773 M2614,1010 H2773"/></g>

<g id="b13"><rect class="bx" x="1283" y="1093" width="157" height="285"/>
<text class="t" x="1303" y="1139" textLength="127" lengthAdjust="spacing">-Bibliografía,</text>
<text class="t" x="1303" y="1160" textLength="127" lengthAdjust="spacing">acerca del</text>
<text class="t" x="1303" y="1181">problema.</text>
<text class="t" x="1303" y="1201" textLength="127" lengthAdjust="spacing">- Materiales para</text>
<text class="t" x="1303" y="1222" textLength="127" lengthAdjust="spacing">levantamientos</text>
<text class="t" x="1303" y="1243" textLength="127" lengthAdjust="spacing">durante las visitas</text>
<text class="t" x="1303" y="1264">de campo.</text>
<text class="t" x="1303" y="1285">-Presupuesto</text>
<text class="t" x="1303" y="1305" textLength="127" lengthAdjust="spacing">-Cronograma de</text>
<text class="t" x="1303" y="1326">actividades.</text>
<path class="ed" d="M1281,1093 H1442 M1281,1378 H1442"/></g>

<g id="b12"><rect class="bx" x="1552" y="1098" width="150" height="281"/>
<text class="t" x="1563" y="1173" textLength="126" lengthAdjust="spacing">Estrategias de</text>
<text class="t" x="1563" y="1194" textLength="126" lengthAdjust="spacing">diseño de</text>
<text class="t" x="1563" y="1215" textLength="126" lengthAdjust="spacing">viviendas</text>
<text class="t" x="1563" y="1235" textLength="126" lengthAdjust="spacing">emergentes,</text>
<text class="t" x="1563" y="1256" textLength="126" lengthAdjust="spacing">enfocadas para</text>
<text class="t" x="1563" y="1277" textLength="126" lengthAdjust="spacing">arquitectos</text>
<text class="t" x="1563" y="1298">constructores.</text>
<path class="ed" d="M1550,1098 H1704 M1550,1379 H1704"/></g>

<g id="b11"><rect class="bx" x="1792" y="1091" width="202" height="291"/>
<text class="t" x="1804" y="1120" textLength="176" lengthAdjust="spacing">En el presente trabajo de</text>
<text class="t" x="1804" y="1141" textLength="176" lengthAdjust="spacing">investigación, se</text>
<text class="t" x="1804" y="1162" textLength="176" lengthAdjust="spacing">pretende, crear</text>
<text class="t" x="1804" y="1183" textLength="176" lengthAdjust="spacing">estrategias de diseño para</text>
<text class="t" x="1804" y="1204" textLength="176" lengthAdjust="spacing">vivienda emergente, que</text>
<text class="t" x="1804" y="1225" textLength="176" lengthAdjust="spacing">sean un referente para</text>
<text class="t" x="1804" y="1245" textLength="176" lengthAdjust="spacing">arquitectos dedicados a</text>
<text class="t" x="1804" y="1266" textLength="176" lengthAdjust="spacing">la construcción, las</text>
<text class="t" x="1804" y="1287" textLength="176" lengthAdjust="spacing">mismas que surgen a</text>
<text class="t" x="1804" y="1308" textLength="176" lengthAdjust="spacing">partir del estudio de</text>
<text class="t" x="1804" y="1329" textLength="176" lengthAdjust="spacing">características, sistemas</text>
<text class="t" x="1804" y="1350" textLength="176" lengthAdjust="spacing">constructivos, materiales</text>
<text class="t" x="1804" y="1371">y ejemplos análogos.</text>
<path class="ed" d="M1790,1091 H1996 M1790,1382 H1996"/></g>

<g id="b10"><rect class="bx" x="2079" y="1092" width="160" height="286"/>
<text class="t" x="2089" y="1156" textLength="139" lengthAdjust="spacing">La falta de</text>
<text class="t" x="2089" y="1177" textLength="139" lengthAdjust="spacing">estrategias de</text>
<text class="t" x="2089" y="1198" textLength="139" lengthAdjust="spacing">diseño para una</text>
<text class="t" x="2089" y="1219" textLength="139" lengthAdjust="spacing">vivienda emergente,</text>
<text class="t" x="2089" y="1240" textLength="139" lengthAdjust="spacing">y la falta de</text>
<text class="t" x="2089" y="1261" textLength="139" lengthAdjust="spacing">conocimiento en el</text>
<text class="t" x="2089" y="1282">tema.</text>
<path class="ed" d="M2077,1092 H2241 M2077,1378 H2241"/></g>

<g id="b9"><rect class="bx" x="2332" y="1095" width="213" height="282"/>
<text class="t" x="2351" y="1120" textLength="171" lengthAdjust="spacing">Las nociones de tiempo</text>
<text class="t" x="2351" y="1141" textLength="171" lengthAdjust="spacing">y de espacio son</text>
<text class="t" x="2351" y="1162" textLength="171" lengthAdjust="spacing">dimensiones del hábitat</text>
<text class="t" x="2351" y="1182" textLength="171" lengthAdjust="spacing">que convergen en</text>
<text class="t" x="2351" y="1203" textLength="171" lengthAdjust="spacing">situaciones de</text>
<text class="t" x="2351" y="1224" textLength="171" lengthAdjust="spacing">emergencia, y que</text>
<text class="t" x="2351" y="1245" textLength="171" lengthAdjust="spacing">implican directamente a</text>
<text class="t" x="2351" y="1265" textLength="171" lengthAdjust="spacing">la vivienda y conducen a</text>
<text class="t" x="2351" y="1286" textLength="171" lengthAdjust="spacing">una comprensión</text>
<text class="t" x="2351" y="1307" textLength="171" lengthAdjust="spacing">enfocada desde la</text>
<text class="t" x="2351" y="1328" textLength="171" lengthAdjust="spacing">arquitectura , de lugares</text>
<text class="t" x="2351" y="1348" textLength="171" lengthAdjust="spacing">temporales o transitorios</text>
<text class="t" x="2351" y="1369">(Gordillo, 2004).</text>
<path class="ed" d="M2330,1095 H2547 M2330,1377 H2547"/></g>

<g id="b8"><rect class="bx" x="2620" y="1098" width="177" height="281"/>
<text class="t" x="2627" y="1135" textLength="159" lengthAdjust="spacing">Mediante la visita y la</text>
<text class="t" x="2627" y="1156" textLength="159" lengthAdjust="spacing">revisión de ejemplos</text>
<text class="t" x="2627" y="1177" textLength="159" lengthAdjust="spacing">análogos, es notoria la</text>
<text class="t" x="2627" y="1197" textLength="159" lengthAdjust="spacing">falta de parámetros que</text>
<text class="t" x="2627" y="1218" textLength="159" lengthAdjust="spacing">se apaguen a la</text>
<text class="t" x="2627" y="1239" textLength="159" lengthAdjust="spacing">definición correcta y</text>
<text class="t" x="2627" y="1260" textLength="159" lengthAdjust="spacing">estrategias que</text>
<text class="t" x="2627" y="1281" textLength="159" lengthAdjust="spacing">esclarezcan las</text>
<text class="t" x="2627" y="1301" textLength="159" lengthAdjust="spacing">características para</text>
<text class="t" x="2627" y="1322" textLength="159" lengthAdjust="spacing">diseñar una vivienda</text>
<text class="t" x="2627" y="1343">emergente.</text>
<path class="ed" d="M2618,1098 H2799 M2618,1379 H2799"/></g>

<g id="l13"><rect class="bx" x="1270" y="1765" width="181" height="342"/>
<text class="t" x="1285" y="1803" textLength="145" lengthAdjust="spacing">-Los recursos</text>
<text class="t" x="1285" y="1824" textLength="145" lengthAdjust="spacing">pueden ser</text>
<text class="t" x="1285" y="1844" textLength="145" lengthAdjust="spacing">esclarecidos</text>
<text class="t" x="1285" y="1865" textLength="145" lengthAdjust="spacing">mediante la revisión</text>
<text class="t" x="1285" y="1886" textLength="145" lengthAdjust="spacing">de la metodología y</text>
<text class="t" x="1285" y="1906" textLength="145" lengthAdjust="spacing">los objetivos. En este</text>
<text class="t" x="1285" y="1927" textLength="145" lengthAdjust="spacing">punto, al tener</text>
<text class="t" x="1285" y="1948" textLength="145" lengthAdjust="spacing">bastante claro, lo que</text>
<text class="t" x="1285" y="1969" textLength="145" lengthAdjust="spacing">se va a investigar, es</text>
<text class="t" x="1285" y="1989" textLength="145" lengthAdjust="spacing">totalmente factible</text>
<text class="t" x="1285" y="2010" textLength="145" lengthAdjust="spacing">saber que recursos se</text>
<text class="t" x="1285" y="2031" textLength="145" lengthAdjust="spacing">necesitarán para</text>
<text class="t" x="1285" y="2051" textLength="145" lengthAdjust="spacing">desarrollar el trabajo</text>
<text class="t" x="1285" y="2072">de titulación.</text>
<path class="ed" d="M1268,1765 H1453 M1268,2107 H1453"/></g>

<g id="l12"><rect class="bx" x="1547" y="1768" width="160" height="357"/>
<text class="t" x="1560" y="1806" textLength="139" lengthAdjust="spacing">-Se lo realiza con</text>
<text class="t" x="1560" y="1827" textLength="139" lengthAdjust="spacing">mayor agilidad</text>
<text class="t" x="1560" y="1848" textLength="139" lengthAdjust="spacing">debido a que ya</text>
<text class="t" x="1560" y="1868" textLength="139" lengthAdjust="spacing">todos los contenidos</text>
<text class="t" x="1560" y="1889" textLength="139" lengthAdjust="spacing">están desarrollados</text>
<text class="t" x="1560" y="1910" textLength="139" lengthAdjust="spacing">de manera clara y</text>
<text class="t" x="1560" y="1931">precisa.</text>
<text class="t" x="1560" y="1973" textLength="139" lengthAdjust="spacing">-Los términos</text>
<text class="t" x="1560" y="1994" textLength="139" lengthAdjust="spacing">utilizados deben ser</text>
<text class="t" x="1560" y="2015" textLength="139" lengthAdjust="spacing">claros y concisos, y</text>
<text class="t" x="1560" y="2035" textLength="139" lengthAdjust="spacing">deben tener</text>
<text class="t" x="1560" y="2056" textLength="139" lengthAdjust="spacing">concordancia con el</text>
<text class="t" x="1560" y="2077" textLength="139" lengthAdjust="spacing">trabajo a</text>
<text class="t" x="1560" y="2098">desarrollar.</text>
<path class="ed" d="M1545,1768 H1709 M1545,2125 H1709"/></g>

<g id="l11"><rect class="bx" x="1805" y="1775" width="184" height="348"/>
<text class="t" x="1822" y="1818" textLength="145" lengthAdjust="spacing">-Es una recopilación</text>
<text class="t" x="1822" y="1839" textLength="145" lengthAdjust="spacing">del objetivo con el</text>
<text class="t" x="1822" y="1859" textLength="145" lengthAdjust="spacing">problema planteado,</text>
<text class="t" x="1822" y="1880">a nivel general.</text>
<text class="t" x="1817" y="1909" textLength="161" lengthAdjust="spacing">-Con los contenidos</text>
<text class="t" x="1817" y="1930" textLength="161" lengthAdjust="spacing">previos ya se tiene una</text>
<text class="t" x="1817" y="1951" textLength="161" lengthAdjust="spacing">idea clara y cercana a</text>
<text class="t" x="1817" y="1972" textLength="161" lengthAdjust="spacing">la realidad del estudio</text>
<text class="t" x="1817" y="1993" textLength="161" lengthAdjust="spacing">que se va a realizar, es</text>
<text class="t" x="1817" y="2014" textLength="161" lengthAdjust="spacing">por ello que en la</text>
<text class="t" x="1817" y="2035" textLength="161" lengthAdjust="spacing">introducción se deben</text>
<text class="t" x="1817" y="2055" textLength="161" lengthAdjust="spacing">incluir de manera breve</text>
<text class="t" x="1817" y="2076" textLength="161" lengthAdjust="spacing">y general todos los</text>
<text class="t" x="1817" y="2097">contenidos realizados.</text>
<path class="ed" d="M1803,1775 H1991 M1803,2123 H1991"/></g>

<g id="l10"><rect class="bx" x="2075" y="1770" width="170" height="342"/>
<text class="t" x="2086" y="1786" textLength="145" lengthAdjust="spacing">-La interrogante que</text>
<text class="t" x="2086" y="1807" textLength="145" lengthAdjust="spacing">se plantea en la</text>
<text class="t" x="2086" y="1828" textLength="145" lengthAdjust="spacing">hipótesis surge a</text>
<text class="t" x="2086" y="1848" textLength="145" lengthAdjust="spacing">partir del marco</text>
<text class="t" x="2086" y="1869" textLength="145" lengthAdjust="spacing">teorico, la</text>
<text class="t" x="2086" y="1890" textLength="145" lengthAdjust="spacing">metodología y la</text>
<text class="t" x="2086" y="1911" textLength="145" lengthAdjust="spacing">revisión</text>
<text class="t" x="2086" y="1932" textLength="145" lengthAdjust="spacing">bibliográfica, y</text>
<text class="t" x="2086" y="1952" textLength="145" lengthAdjust="spacing">además los objetivos</text>
<text class="t" x="2086" y="1973" textLength="145" lengthAdjust="spacing">deberán ya estar</text>
<text class="t" x="2086" y="1994" textLength="145" lengthAdjust="spacing">desarrollados, para</text>
<text class="t" x="2086" y="2015" textLength="145" lengthAdjust="spacing">poder tener una</text>
<text class="t" x="2086" y="2036" textLength="145" lengthAdjust="spacing">hipótesis que logre</text>
<text class="t" x="2086" y="2056" textLength="145" lengthAdjust="spacing">solidificar el trabajo</text>
<text class="t" x="2086" y="2077" textLength="145" lengthAdjust="spacing">de investigación que</text>
<text class="t" x="2086" y="2098">se quiere emprender.</text>
<path class="ed" d="M2073,1770 H2247 M2073,2112 H2247"/></g>

<g id="l9"><rect class="bx" x="2356" y="1773" width="177" height="342"/>
<text class="t" x="2373" y="1813" textLength="152" lengthAdjust="spacing">-Justifica los</text>
<text class="t" x="2373" y="1834">contenidos del índice.</text>
<text class="t" x="2370" y="1914">-Es el producto de:</text>
<text class="t c" x="2443" y="1955">Revisión</text>
<text class="t c" x="2443" y="1976">Bibliográfica</text>
<text class="t c" x="2443" y="2031" style="font-size:28px">+</text>
<text class="t c" x="2443" y="2098">Metodología</text>
<path class="ed" d="M2354,1773 H2535 M2354,2115 H2535"/></g>

<g id="l8"><rect class="bx" x="2626" y="1770" width="156" height="343"/>
<text class="t" x="2643" y="1836" textLength="127" lengthAdjust="spacing">-Es el resultado</text>
<text class="t" x="2643" y="1857">de:</text>
<text class="t c" x="2707" y="1921">Metodología</text>
<text class="t c" x="2707" y="1974" style="font-size:28px">+</text>
<text class="t c" x="2707" y="2022">Problema.</text>
<path class="ed" d="M2624,1770 H2784 M2624,2113 H2784"/></g>
</svg>
